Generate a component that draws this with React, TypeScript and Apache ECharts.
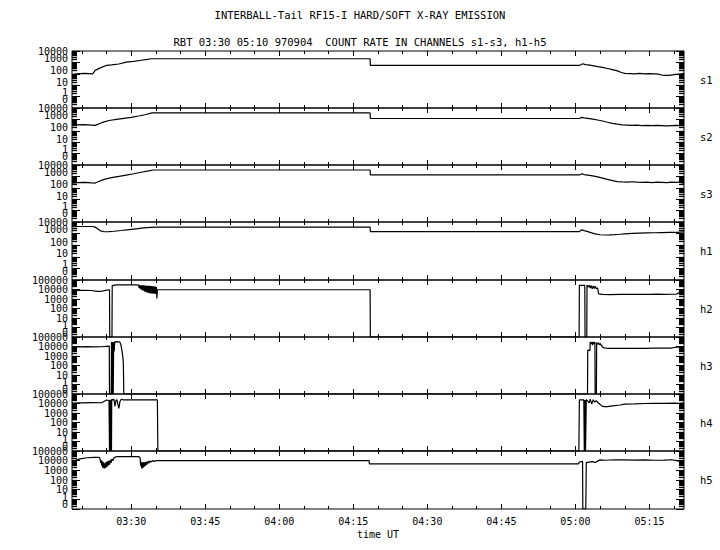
import React, { useEffect, useRef } from "react";
import * as echarts from "echarts";

// ---- axis definitions (time in minutes of day, UT) ----
const TIME_MIN = 198; // 03:18
const TIME_MAX = 322; // 05:22
const majorTimes = [210, 225, 240, 255, 270, 285, 300, 315];
const minorTimes = [200, 205, 215, 220, 230, 235, 245, 250, 260, 265, 275, 280, 290, 295, 305, 310, 320];
const channelNames = ["s1", "s2", "s3", "h1", "h2", "h3", "h4", "h5"];
const channelDecades = [5, 5, 5, 5, 6, 6, 6, 6];
const titleText = "INTERBALL-Tail RF15-I HARD/SOFT X-RAY EMISSION";
const subtitleText = "RBT 03:30 05:10 970904  COUNT RATE IN CHANNELS s1-s3, h1-h5";
const xAxisName = "time UT";

// ---- series values: [time (min), count rate] ----
const s1Data = [
  [198, 85], [199, 100], [200.5, 110], [201.5, 105], [202.2, 100], [202.7, 200], [203.5, 300], [204.2, 400],
  [205, 540], [206, 600], [207.5, 720], [209, 1050], [210.5, 1250], [212, 1550], [213.3, 1850], [214, 2090],
  [258.4, 2090], [258.45, 540], [300.8, 540], [301.2, 650], [301.5, 760], [302, 640], [302.6, 600], [303.5, 520],
  [304.5, 430], [305.5, 360], [306.5, 290], [307.5, 230], [308.5, 180], [309.3, 130], [310, 110], [311, 105],
  [312, 100], [313, 108], [314, 98], [315, 104], [316, 100], [316.8, 95], [317.5, 78], [318.3, 72], [319, 74],
  [320, 85], [320.8, 95], [321.5, 98], [322, 110],
];
const s2Data = [
  [198, 300], [199, 330], [200.5, 350], [202, 320], [202.7, 300], [203.5, 420], [204.5, 600], [205.5, 800],
  [207, 1000], [208.5, 1250], [210, 1500], [211.5, 2000], [213, 2700], [214.2, 3700], [258.4, 3700], [258.45, 1200],
  [300.8, 1200], [301.3, 1500], [301.8, 1350], [302.5, 1250], [303.5, 1050], [304.5, 880], [305.5, 720], [306.5, 560],
  [307.5, 450], [308.5, 380], [309.5, 330], [310.5, 320], [311.5, 300], [312.5, 310], [313.5, 290], [314.5, 300],
  [315.5, 280], [316.5, 300], [317.5, 290], [318.5, 270], [319.5, 290], [320.5, 300], [321.5, 280], [322, 320],
];
const s3Data = [
  [198, 250], [199, 280], [200.5, 300], [202, 270], [202.7, 260], [203.5, 380], [204.5, 550], [206, 780],
  [207.5, 1000], [209, 1300], [210.5, 1700], [212, 2300], [213.5, 3000], [214.5, 3650], [258.4, 3650], [258.45, 1340],
  [300.8, 1340], [301.3, 1700], [301.8, 1450], [302.5, 1300], [303.5, 1100], [304.5, 900], [305.5, 700], [306.5, 540],
  [307.5, 420], [308.5, 350], [309.5, 330], [310.5, 320], [311.5, 340], [312.5, 310], [313.5, 300], [314.5, 320],
  [315.5, 290], [316.5, 310], [317.5, 300], [318.5, 290], [319.5, 310], [320.5, 300], [321.3, 330], [321.8, 250], [322, 230],
];
const h1Data = [
  [198, 4100], [202, 4100], [202.6, 3800], [203.2, 2600], [203.8, 1700], [204.5, 1450], [205.5, 1480], [206.5, 1600],
  [208, 1850], [209.5, 2200], [211, 2600], [212.5, 3100], [214, 3500], [215, 3630], [258.4, 3630], [258.45, 1490],
  [300.8, 1490], [301.3, 2100], [301.8, 1800], [302.5, 1500], [303.3, 1150], [304, 950], [305, 800], [306, 760],
  [307, 780], [308, 820], [309, 880], [310, 950], [311.5, 1050], [313, 1120], [314.5, 1150], [316, 1180],
  [317.5, 1220], [319, 1260], [320.5, 1300], [322, 1400],
];
const h2Data = [
  [198, 7000], [199, 8000], [200.5, 8200], [202, 7800], [203, 6300], [204, 6500], [205, 8500], [205.6, 9400],
  [205.65, 0], [206.1, 0], [206.15, 26000], [207, 30000], [208, 31000], [209, 31500], [210, 31000], [211, 30000],
  [211.5, 29000], [211.6, 15000], [211.7, 29000], [211.8, 12000], [211.9, 28000], [212.0, 10000], [212.1, 28000],
  [212.2, 9000], [212.3, 27000], [212.4, 8000], [212.5, 27000], [212.6, 7000], [212.7, 26000], [212.8, 6000],
  [212.9, 26000], [213.0, 5500], [213.1, 25000], [213.2, 5000], [213.3, 25000], [213.4, 4500], [213.5, 24000],
  [213.6, 4200], [213.7, 24000], [213.8, 4000], [213.9, 23000], [214.0, 3900], [214.1, 23000], [214.2, 3800],
  [214.3, 22000], [214.4, 3800], [214.5, 22000], [214.6, 3700], [214.7, 21000], [214.8, 3700], [214.9, 20000],
  [215.0, 3500], [215.1, 18000], [215.2, 1150], [215.3, 9400], [258.4, 9400], [258.45, 0], [300.75, 0],
  [300.8, 26600], [301.9, 26600], [301.95, 0], [302.3, 0], [302.35, 30000], [302.6, 18000], [302.8, 28000],
  [303, 14000], [303.2, 26000], [303.4, 12000], [303.6, 24000], [303.8, 13000], [304, 22000], [304.2, 12900],
  [304.5, 14000], [304.7, 3500], [305.5, 3000], [307, 2900], [309, 3100], [310.5, 3000], [312, 3100],
  [313.5, 3050], [315, 3000], [316.5, 3200], [318, 3100], [319.5, 3150], [320.5, 3300], [321.3, 5300], [322, 5000],
];
const h3Data = [
  [198, 9000], [199.5, 9300], [201, 9500], [202.5, 9200], [204, 9400], [205, 10500], [205.55, 11000], [205.6, 0],
  [205.95, 0], [206.0, 30000], [206.05, 0], [206.15, 27000], [206.2, 0], [206.3, 30000], [206.35, 0], [206.45, 30000],
  [206.55, 3000], [206.65, 31000], [207, 32000], [207.4, 31000], [207.7, 29000], [207.9, 15000], [208.1, 4100],
  [208.3, 800], [208.4, 200], [208.5, 0], [302.45, 0], [302.5, 4100], [302.95, 4000], [303, 30000], [303.2, 18000],
  [303.35, 31000], [303.5, 14000], [303.65, 29000], [303.8, 20000], [303.95, 30000], [304, 0], [304.25, 0],
  [304.3, 26000], [304.5, 17000], [304.7, 24000], [304.9, 15000], [305.1, 20000], [305.3, 12000], [305.5, 9000],
  [305.8, 7000], [306.5, 6500], [308, 6200], [310, 6400], [312, 6300], [314, 6500], [316, 6600], [318, 6700],
  [319.5, 6900], [320.5, 8500], [322, 9000],
];
const h4Data = [
  [198, 10700], [200, 11500], [202, 12300], [204, 12000], [205, 23600], [205.5, 20000], [205.6, 0], [205.7, 25000],
  [205.8, 0], [205.9, 22000], [206.0, 0], [206.05, 28000], [206.3, 24000], [206.5, 28000], [206.7, 5000],
  [206.9, 20000], [207.1, 26000], [207.3, 8000], [207.5, 3000], [207.7, 15000], [207.9, 25000], [208.1, 28000],
  [208.4, 23600], [210, 24000], [212, 23600], [215.3, 23600], [215.4, 0], [300.7, 0], [300.8, 23600],
  [301.7, 23600], [301.8, 0], [301.9, 0], [301.95, 23000], [302.05, 0], [302.1, 0], [302.2, 26000], [302.5, 18000],
  [302.8, 12000], [303, 28000], [303.3, 9000], [303.6, 25000], [303.9, 14000], [304.2, 20000], [304.6, 12000],
  [305, 8000], [305.5, 5000], [306, 4700], [306.5, 4600], [307.5, 5500], [309, 7000], [310, 8500], [312, 9000],
  [314, 10000], [316, 10500], [318, 10200], [320, 11000], [321, 10500], [322, 12000],
];
const h5Data = [
  [198, 8100], [199.6, 15500], [201, 20000], [202.5, 22200], [203.5, 22000], [203.7, 15000], [203.8, 6000],
  [203.9, 12000], [204.0, 3000], [204.1, 9000], [204.2, 2000], [204.3, 7000], [204.4, 1700], [204.5, 6000],
  [204.6, 1600], [204.7, 5000], [204.8, 1800], [204.9, 7000], [205.0, 2200], [205.1, 8000], [205.2, 2500],
  [205.3, 9000], [205.4, 3500], [205.5, 10000], [205.6, 4000], [205.8, 12000], [205.9, 6000], [206.1, 15000],
  [206.3, 10000], [206.5, 20000], [206.7, 22000], [207.1, 27000], [209, 26000], [211.5, 27000], [211.8, 20000],
  [211.9, 3000], [212.0, 8000], [212.1, 1600], [212.2, 6000], [212.3, 1700], [212.4, 7000], [212.5, 2000],
  [212.6, 6500], [212.7, 2500], [212.8, 7000], [212.9, 3000], [213.0, 8000], [213.2, 4000], [213.4, 9000],
  [213.6, 5500], [213.8, 9500], [214.0, 7000], [214.3, 10000], [214.6, 8500], [215, 10000], [215.4, 10200],
  [258.2, 10200], [258.25, 4600], [300.6, 4600], [300.8, 7000], [301.2, 8100], [301.45, 8500], [301.5, 0],
  [302.1, 0], [302.2, 6300], [303, 7500], [303.5, 8000], [304, 6500], [304.5, 9000], [305, 12000], [306, 11000],
  [308, 12500], [310, 12000], [312, 11500], [314, 12000], [316, 11000], [318, 11500], [319.5, 12500],
  [320.5, 10000], [321, 9000], [322, 8000],
];
const channelData = [s1Data, s2Data, s3Data, h1Data, h2Data, h3Data, h4Data, h5Data];

// ---- layout ----
const PLOT_LEFT = 72;
const PLOT_RIGHT = 684;
const PLOT_TOP = 50.5;
const PANEL_H = 57.25;
const FONT = "'DejaVu Sans Mono', monospace";
// upward shift (px) of each y label, by decade index, for 5- and 6-decade panels
const LIFT5 = [9, 4, 3, 3, 4, 0];
const LIFT6 = [5, 2, 0, 0, 0, 0, 0];

const toLogUnit = (v: number) => (v <= 0 ? 0 : Math.log10(v) + 1);
const fmtTime = (m: number) => {
  const h = Math.floor(m / 60);
  const mm = Math.round(m - h * 60);
  return `${String(h).padStart(2, "0")}:${String(mm).padStart(2, "0")}`;
};
const countText = (u: number) => (u === 0 ? "0" : String(Math.round(Math.pow(10, u - 1))));

function buildOption() {
  const grids: any[] = [];
  const xAxes: any[] = [];
  const yAxes: any[] = [];
  const series: any[] = [];
  const titles: any[] = [
    { text: titleText, left: "center", top: 9, padding: 0,
      textStyle: { fontFamily: FONT, fontSize: 10.5, fontWeight: "normal", color: "#000" } },
    { text: subtitleText, left: "center", top: 36, padding: 0,
      textStyle: { fontFamily: FONT, fontSize: 10.5, fontWeight: "normal", color: "#000" } },
  ];

  const rich: any = {};
  for (let l = 0; l <= 10; l++) {
    rich["l" + l] = { fontFamily: FONT, fontSize: 10, color: "#000", lineHeight: 10, padding: [0, 0, 2 * l, 0] };
  }

  channelNames.forEach((name, i) => {
    const top = Math.round(PLOT_TOP + i * PANEL_H);
    const bottomEdge = Math.round(PLOT_TOP + (i + 1) * PANEL_H);
    const height = bottomEdge - top;
    grids.push({
      left: PLOT_LEFT, width: PLOT_RIGHT - PLOT_LEFT, top, height,
      show: true, borderColor: "#000", borderWidth: 1, backgroundColor: "transparent",
    });
    const isLast = i === channelNames.length - 1;
    const xBase = xAxes.length;
    const mkX = (position: string, values: number[], length: number, withLabels: boolean) => ({
      type: "value", gridIndex: i, position, min: TIME_MIN, max: TIME_MAX,
      axisLine: { show: false, onZero: false },
      splitLine: { show: false },
      axisTick: { show: true, inside: true, length, customValues: values, lineStyle: { color: "#000", width: 1 } },
      axisLabel: withLabels
        ? { show: true, customValues: majorTimes, formatter: (v: number) => fmtTime(v), margin: 7,
            fontFamily: FONT, fontSize: 10, color: "#000" }
        : { show: false },
      ...(withLabels
        ? { name: xAxisName, nameLocation: "middle", nameGap: 20,
            nameTextStyle: { fontFamily: FONT, fontSize: 10, color: "#000" } }
        : {}),
    });
    xAxes.push(mkX("bottom", majorTimes, 5, isLast));
    xAxes.push(mkX("bottom", minorTimes, 3, false));
    xAxes.push(mkX("top", majorTimes, 5, false));
    xAxes.push(mkX("top", minorTimes, 3, false));

    const dec = channelDecades[i];
    const lifts = dec === 5 ? LIFT5 : LIFT6;
    const majorU: number[] = [];
    for (let d = 0; d <= dec; d++) majorU.push(d);
    const evenU = majorU.filter((u) => u % 2 === 0);
    const oddU = majorU.filter((u) => u % 2 === 1);
    const minorU: number[] = [];
    for (let d = 0; d < dec; d++) for (let k = 2; k <= 9; k++) minorU.push(d + Math.log10(k));
    const fmtCount = (u: number) => `{l${lifts[Math.round(u)] || 0}|${countText(u)}}`;

    const yBase = yAxes.length;
    const mkY = (position: string, values: number[], length: number, tickWidth: number,
                 labelValues: number[] | null, yName?: string) => ({
      type: "value", gridIndex: i, position, min: 0, max: dec,
      axisLine: { show: false, onZero: false },
      splitLine: { show: false },
      axisTick: { show: true, inside: true, length, customValues: values, lineStyle: { color: "#000", width: tickWidth } },
      axisLabel: labelValues
        ? { show: true, customValues: labelValues, formatter: (v: number) => fmtCount(v), margin: 4,
            showMinLabel: true, showMaxLabel: true, hideOverlap: false, rich }
        : { show: false },
      ...(yName
        ? { name: yName, nameLocation: "middle", nameRotate: 0, nameGap: 16,
            nameTextStyle: { fontFamily: FONT, fontSize: 10.5, color: "#000", align: "left", verticalAlign: "middle" } }
        : {}),
    });
    yAxes.push(mkY("left", majorU, 8, 1, evenU));
    yAxes.push(mkY("left", minorU, 5, 1.3, oddU));
    yAxes.push(mkY("right", majorU, 8, 1, null, name));
    yAxes.push(mkY("right", minorU, 5, 1.3, null));

    series.push({
      type: "line", name, xAxisIndex: xBase, yAxisIndex: yBase,
      data: channelData[i].map(([t, v]) => [t, toLogUnit(v)]),
      showSymbol: false, symbol: "none",
      lineStyle: { color: "#000", width: 1.2 },
      silent: true,
    });
  });

  return {
    animation: false,
    backgroundColor: "#fff",
    title: titles,
    grid: grids,
    xAxis: xAxes,
    yAxis: yAxes,
    series,
  };
}

export default function App() {
  const ref = useRef<HTMLDivElement>(null);
  useEffect(() => {
    if (!ref.current) return;
    const chart = echarts.init(ref.current, null, { renderer: "svg" });
    chart.setOption(buildOption() as any);
    return () => chart.dispose();
  }, []);
  return (
    <div
      ref={ref}
      style={{ position: "fixed", left: 0, top: 0, width: 720, height: 550, background: "#fff" }}
    />
  );
}
